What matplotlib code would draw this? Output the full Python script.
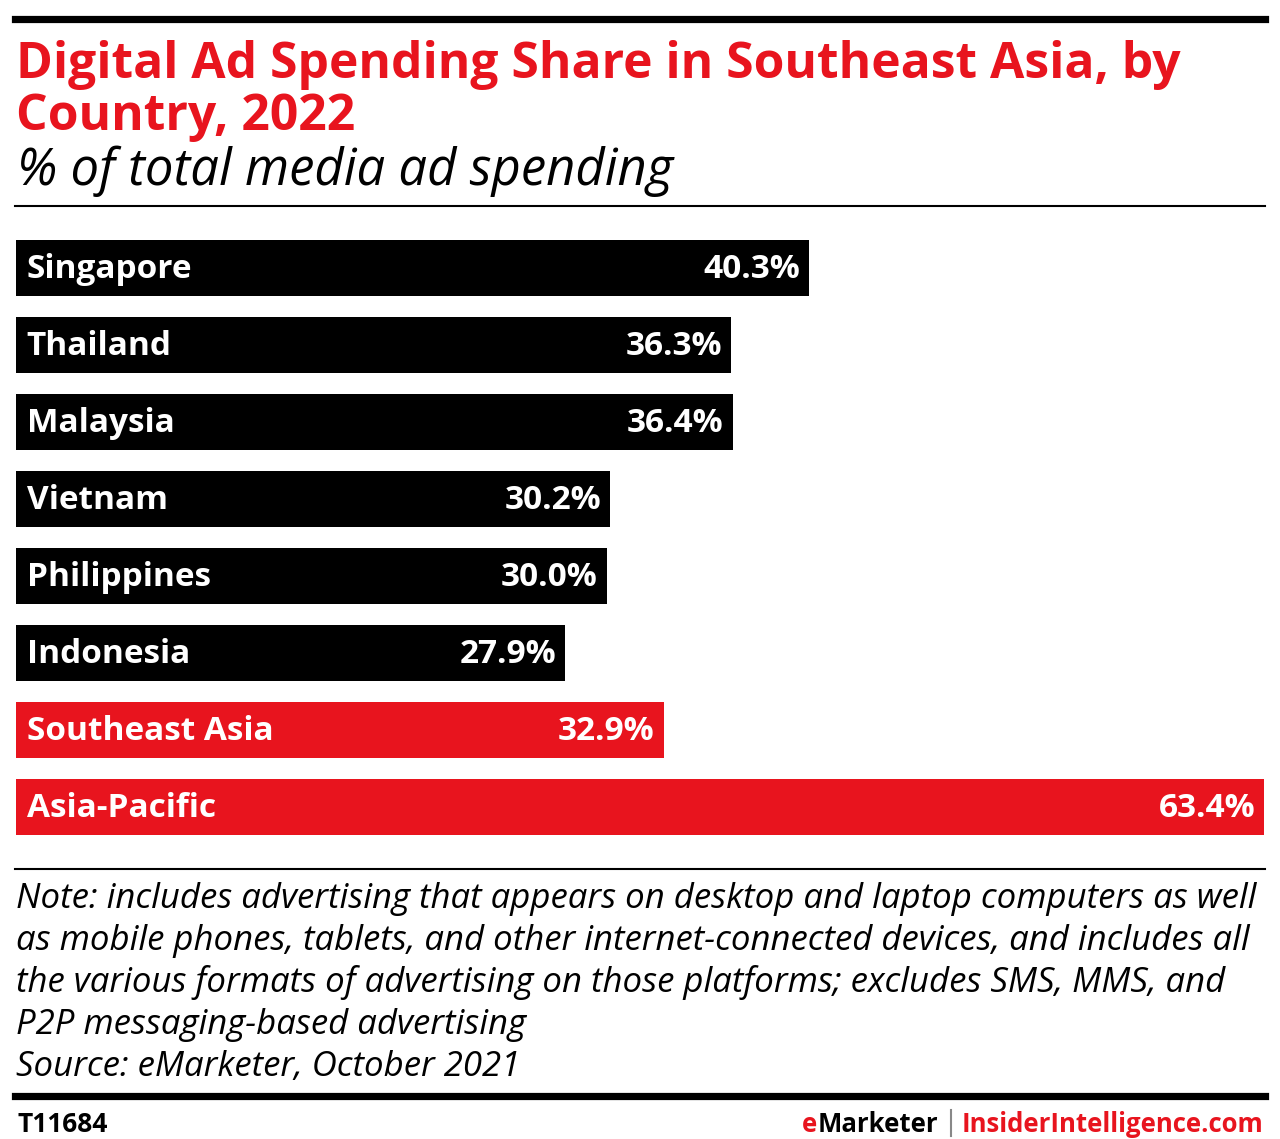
import matplotlib.pyplot as plt

# dados
paises = ["Singapore", "Thailand", "Malaysia", "Vietnam", "Philippines",
          "Indonesia", "Southeast Asia", "Asia-Pacific"]
valores = [40.3, 36.3, 36.4, 30.2, 30.0, 27.9, 32.9, 63.4]
destaque = [False, False, False, False, False, False, True, True]

titulo = ["Digital Ad Spending Share in Southeast Asia, by", "Country, 2022"]
subtitulo = "% of total media ad spending"
nota = ["Note: includes advertising that appears on desktop and laptop computers as well",
        "as mobile phones, tablets, and other internet-connected devices, and includes all",
        "the various formats of advertising on those platforms; excludes SMS, MMS, and",
        "P2P messaging-based advertising",
        "Source: eMarketer, October 2021"]

VERMELHO = "#E8141E"
W, H = 1280, 1139

plt.rcParams["font.family"] = ["Open Sans", "DejaVu Sans"]
fig = plt.figure(figsize=(W / 100, H / 100), dpi=100)


def fx(px):
    return px / W


def fy(py):
    return 1 - py / H


# linhas horizontais do layout
def linha(py, lw):
    fig.add_artist(plt.Line2D([fx(15), fx(1265)], [fy(py), fy(py)],
                              color="black", lw=lw, transform=fig.transFigure))


linha(19, 5.2)
linha(206, 1.5)
linha(869, 1.5)
linha(1096, 5.2)

# titulo e subtitulo
for k, t in enumerate(titulo):
    fig.text(fx(16), fy(78 + 52 * k), t, color=VERMELHO, fontsize=35.8,
             fontweight="bold", va="baseline")
fig.text(fx(17), fy(185), subtitulo, color="black", fontsize=36.5,
         fontstyle="italic", va="baseline")

# barras
ax = fig.add_axes([fx(16), fy(845.5), fx(1264) - fx(16), fy(229.5) - fy(845.5)])
cores = [VERMELHO if d else "black" for d in destaque]
pos = list(range(len(paises)))
ax.barh(pos, valores, height=56 / 77, color=cores, left=0)
ax.set_xlim(0, max(valores))
ax.set_ylim(len(paises) - 0.5, -0.5)
ax.axis("off")

for i, (p, v) in enumerate(zip(paises, valores)):
    ax.text(0.55, i + 0.125, p, color="white", fontsize=24, fontweight="bold",
            va="baseline", ha="left")
    ax.text(v - 0.45, i + 0.125, f"{v:.1f}%", color="white", fontsize=24,
            fontweight="bold", va="baseline", ha="right")

# nota
for k, t in enumerate(nota):
    fig.text(fx(16), fy(908 + 42 * k), t, fontsize=25, fontstyle="italic",
             va="baseline")

# rodape
fig.text(fx(17), fy(1132), "T11684", fontsize=19, fontweight="bold", va="baseline")
fig.text(fx(1263), fy(1132), "InsiderIntelligence.com", fontsize=18.5,
         fontweight="bold", color=VERMELHO, ha="right", va="baseline")
fig.add_artist(plt.Line2D([fx(951), fx(951)], [fy(1136), fy(1110)],
                          color="#888888", lw=1.5, transform=fig.transFigure))
mk = fig.text(fx(938), fy(1132), "Marketer", fontsize=18.5, fontweight="bold",
              color="black", ha="right", va="baseline")
fig.add_artist(plt.Annotation("e", xy=(0, 0), xycoords=mk, fontsize=18.5,
                              fontweight="bold", color=VERMELHO, ha="right",
                              va="bottom"))

fig.savefig("out.png", dpi=100)
